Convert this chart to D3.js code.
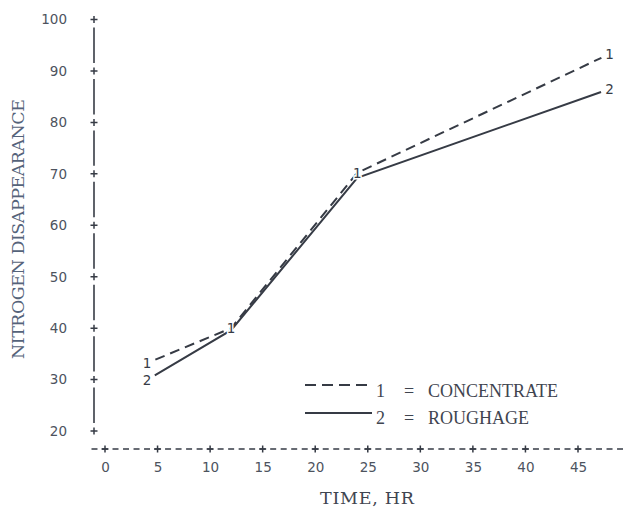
<!DOCTYPE html>
<html>
<head>
<meta charset="utf-8">
<script src="https://cdn.jsdelivr.net/npm/d3@7"></script>
<style>
    body { margin: 0; background: #fff; }
    svg { display: block; }
</style>
</head>
<body>
<svg id="chart" width="625" height="511"></svg>
<script>
// data
const hours = [4, 12, 24, 48];
const concentrate = [33.2, 40.0, 70.2, 93.3];
const roughage = [29.9, 39.6, 69.2, 86.5];
const xTicks = [0, 5, 10, 15, 20, 25, 30, 35, 40, 45];
const yTicks = [20, 30, 40, 50, 60, 70, 80, 90, 100];

const ink = '#363b45';

const svg = d3.select('#chart');

const x = d3.scaleLinear().domain([0, 45]).range([105, 578]);
const y = d3.scaleLinear().domain([20, 100]).range([431, 19.5]);

const axisX = 94;     // where the vertical axis sits
const axisY = 449;    // where the typed x axis sits

/* y axis: broken line with + marks */
const yAxis = svg.append('g')
    .attr('transform', `translate(${axisX},0)`)
    .call(d3.axisLeft(y).tickValues(yTicks).tickSize(0).tickPadding(27));
yAxis.select('.domain').remove();
yAxis.selectAll('text')
    .attr('font-family', 'DejaVu Sans')
    .attr('font-size', 13.5)
    .attr('fill', '#4d535e');

yTicks.slice(0, -1).forEach((v, i) => {
    svg.append('line')
        .attr('x1', axisX).attr('x2', axisX)
        .attr('y1', y(yTicks[i + 1]) + 8)
        .attr('y2', y(v) - 8)
        .attr('stroke', ink).attr('stroke-width', 1.6);
});

function plus(cx, cy) {
    svg.append('path')
        .attr('d', `M${cx - 3.5},${cy}H${cx + 3.5}M${cx},${cy - 3.5}V${cy + 3.5}`)
        .attr('stroke', ink).attr('stroke-width', 1.5);
}
yTicks.forEach(v => plus(axisX, y(v)));

/* x axis: typed "-+----+----" line */
const cell = (x(5) - x(0)) / 5;
svg.append('line')
    .attr('x1', x(0) - cell - 3).attr('x2', 625)
    .attr('y1', axisY).attr('y2', axisY)
    .attr('stroke', ink).attr('stroke-width', 1.4)
    .attr('stroke-dasharray', `6,${cell - 6}`);
xTicks.forEach(v => plus(x(v), axisY));

const xAxis = svg.append('g')
    .attr('transform', `translate(0,${axisY})`)
    .call(d3.axisBottom(x).tickValues(xTicks).tickSize(0).tickPadding(13));
xAxis.select('.domain').remove();
xAxis.selectAll('text')
    .attr('font-family', 'DejaVu Sans')
    .attr('font-size', 13.5)
    .attr('fill', '#4d535e');

/* axis titles, typewriter style */
svg.append('text')
    .attr('transform', 'translate(24,229) rotate(-90)')
    .attr('text-anchor', 'middle')
    .attr('font-family', 'DejaVu Serif')
    .attr('font-size', 17.5)
    .attr('textLength', 260)
    .attr('lengthAdjust', 'spacing')
    .attr('fill', '#55637a')
    .text('NITROGEN DISAPPEARANCE');

svg.append('text')
    .attr('x', 367).attr('y', 504)
    .attr('text-anchor', 'middle')
    .attr('font-family', 'DejaVu Serif')
    .attr('font-size', 17.5)
    .attr('textLength', 94)
    .attr('lengthAdjust', 'spacing')
    .attr('fill', '#3f4550')
    .text('TIME, HR');

/* series */
const series = [
    {values: concentrate, key: '1', dash: '10,6', marks: [0, 1, 2, 3]},
    {values: roughage, key: '2', dash: null, marks: [0, 3]}
];

// trim a polyline at both ends so it stops short of the number marks
function trimmed(pts, gap) {
    const out = pts.map(p => p.slice());
    const cut = (a, b) => {
        const dx = b[0] - a[0], dy = b[1] - a[1], len = Math.hypot(dx, dy);
        a[0] += dx / len * gap;
        a[1] += dy / len * gap;
    };
    cut(out[0], pts[1]);
    cut(out[out.length - 1], pts[pts.length - 2]);
    return out;
}

series.forEach(s => {
    const pts = hours.map((h, i) => [x(h), y(s.values[i])]);
    svg.append('path')
        .attr('d', d3.line()(trimmed(pts, 9)))
        .attr('fill', 'none')
        .attr('stroke', ink)
        .attr('stroke-width', 2)
        .attr('stroke-dasharray', s.dash);
});

series.forEach(s => {
    s.marks.forEach(i => {
        svg.append('text')
            .attr('x', x(hours[i]))
            .attr('y', y(s.values[i]))
            .attr('dy', '0.36em')
            .attr('text-anchor', 'middle')
            .attr('font-family', 'DejaVu Sans')
            .attr('font-size', 13.5)
            .attr('fill', ink)
            .attr('stroke', '#fff')
            .attr('stroke-width', 3)
            .attr('paint-order', 'stroke')
            .text(s.key);
    });
});

/* legend */
const legend = [
    {key: '1', name: 'CONCENTRATE', dash: '11,6', ly: 385, ty: 397},
    {key: '2', name: 'ROUGHAGE', dash: null, ly: 413, ty: 424}
];
legend.forEach(d => {
    svg.append('line')
        .attr('x1', 305).attr('x2', 372)
        .attr('y1', d.ly).attr('y2', d.ly)
        .attr('stroke', ink).attr('stroke-width', 2)
        .attr('stroke-dasharray', d.dash);
    const t = svg.append('g')
        .attr('font-family', 'Liberation Serif')
        .attr('font-size', 18)
        .attr('fill', '#3f4550');
    t.append('text').attr('x', 376).attr('y', d.ty).text(d.key);
    t.append('text').attr('x', 404).attr('y', d.ty).text('=');
    t.append('text').attr('x', 428).attr('y', d.ty).text(d.name);
});
</script>
</body>
</html>
